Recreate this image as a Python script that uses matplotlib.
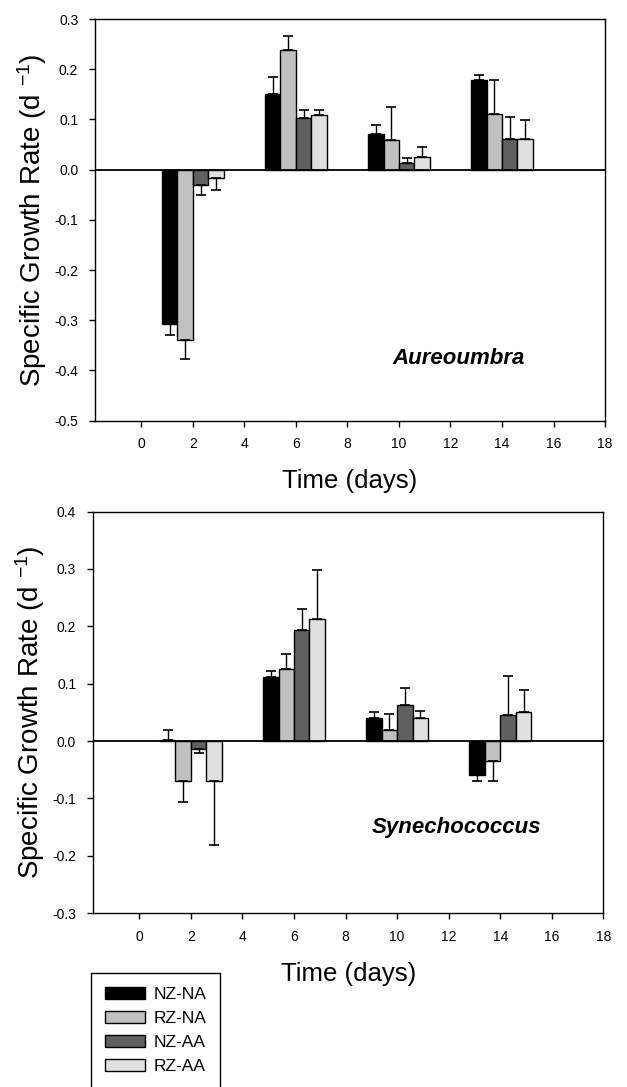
import numpy as np
import matplotlib.pyplot as plt
from matplotlib.patches import Patch

plt.rcParams['font.family'] = ['Liberation Sans', 'DejaVu Sans']
plt.rcParams['axes.unicode_minus'] = False
plt.rcParams['mathtext.fontset'] = 'custom'
plt.rcParams['mathtext.rm'] = 'Liberation Sans'
plt.rcParams['mathtext.default'] = 'regular'

days = [2, 6, 10, 14]
treatments = ['NZ-NA', 'RZ-NA', 'NZ-AA', 'RZ-AA']
colors = ['#000000', '#c0c0c0', '#606060', '#e0e0e0']

# Aureoumbra growth rates and error (one-sided, away from zero)
aur_vals = [[-0.308, 0.150, 0.071, 0.178],
            [-0.339, 0.239, 0.059, 0.111],
            [-0.031, 0.103, 0.014, 0.061],
            [-0.016, 0.108, 0.025, 0.061]]
aur_err = [[0.021, 0.034, 0.017, 0.011],
           [0.038, 0.028, 0.065, 0.068],
           [0.019, 0.015, 0.009, 0.043],
           [0.025, 0.010, 0.021, 0.037]]

# Synechococcus
syn_vals = [[0.002, 0.112, 0.041, -0.059],
            [-0.070, 0.125, 0.020, -0.035],
            [-0.0145, 0.194, 0.062, 0.045],
            [-0.070, 0.212, 0.041, 0.050]]
syn_err = [[0.017, 0.010, 0.010, 0.010],
           [0.036, 0.026, 0.028, 0.034],
           [0.006, 0.037, 0.030, 0.069],
           [0.111, 0.087, 0.012, 0.039]]

fig = plt.figure(figsize=(6.27, 10.87), dpi=100)
ax1 = fig.add_axes([0.1515, 0.613, 0.8135, 0.3695])
ax2 = fig.add_axes([0.148, 0.160, 0.8145, 0.3693])

width = 0.6
offsets = [-0.9, -0.3, 0.3, 0.9]


def draw(ax, vals, errs, ylim, yticks, name, name_xy):
    for i in range(4):
        v = np.array(vals[i])
        e = np.array(errs[i])
        lo = np.where(v < 0, e, 0)
        hi = np.where(v >= 0, e, 0)
        x = np.array(days) + offsets[i]
        ax.bar(x, v, width, color=colors[i], edgecolor='black', linewidth=1,
               zorder=2)
        ax.errorbar(x, v, yerr=[lo, hi], fmt='none', ecolor='black',
                    elinewidth=1, capsize=3.6, capthick=1.2, zorder=3)
    ax.axhline(0, color='black', lw=1.3, zorder=4)
    ax.set_xlim(-1.8, 18)
    ax.set_ylim(*ylim)
    ax.set_xticks(range(0, 19, 2))
    ax.set_yticks(yticks)
    ax.set_yticklabels(['%.1f' % (round(t, 1) + 0.0) for t in yticks])
    ax.tick_params(direction='out', length=4, width=1, labelsize=10, pad=8)
    for s in ax.spines.values():
        s.set_linewidth(1)
    ax.set_xlabel('Time (days)', fontsize=18.5, labelpad=13)
    ax.set_ylabel('Specific Growth Rate (d $^{-1}$)', fontsize=20, labelpad=4)
    ax.text(name_xy[0], name_xy[1], name, fontsize=16, fontweight='bold',
            fontstyle='italic', ha='center', va='center')


draw(ax1, aur_vals, aur_err, (-0.5, 0.3), np.arange(-0.5, 0.31, 0.1),
     'Aureoumbra', (12.3, -0.377))
draw(ax2, syn_vals, syn_err, (-0.3, 0.4), np.arange(-0.3, 0.41, 0.1),
     'Synechococcus', (12.3, -0.15))

handles = [Patch(facecolor=c, edgecolor='black', linewidth=1) for c in colors]
fig.legend(handles, treatments, loc='upper left',
           bbox_to_anchor=(0.1447, 0.1046), fontsize=12.5, frameon=True,
           fancybox=False, edgecolor='black', framealpha=1,
           handlelength=2.3, handleheight=0.7, handletextpad=0.5,
           labelspacing=0.5, borderpad=0.8, borderaxespad=0)

fig.savefig('out.png', dpi=100)
